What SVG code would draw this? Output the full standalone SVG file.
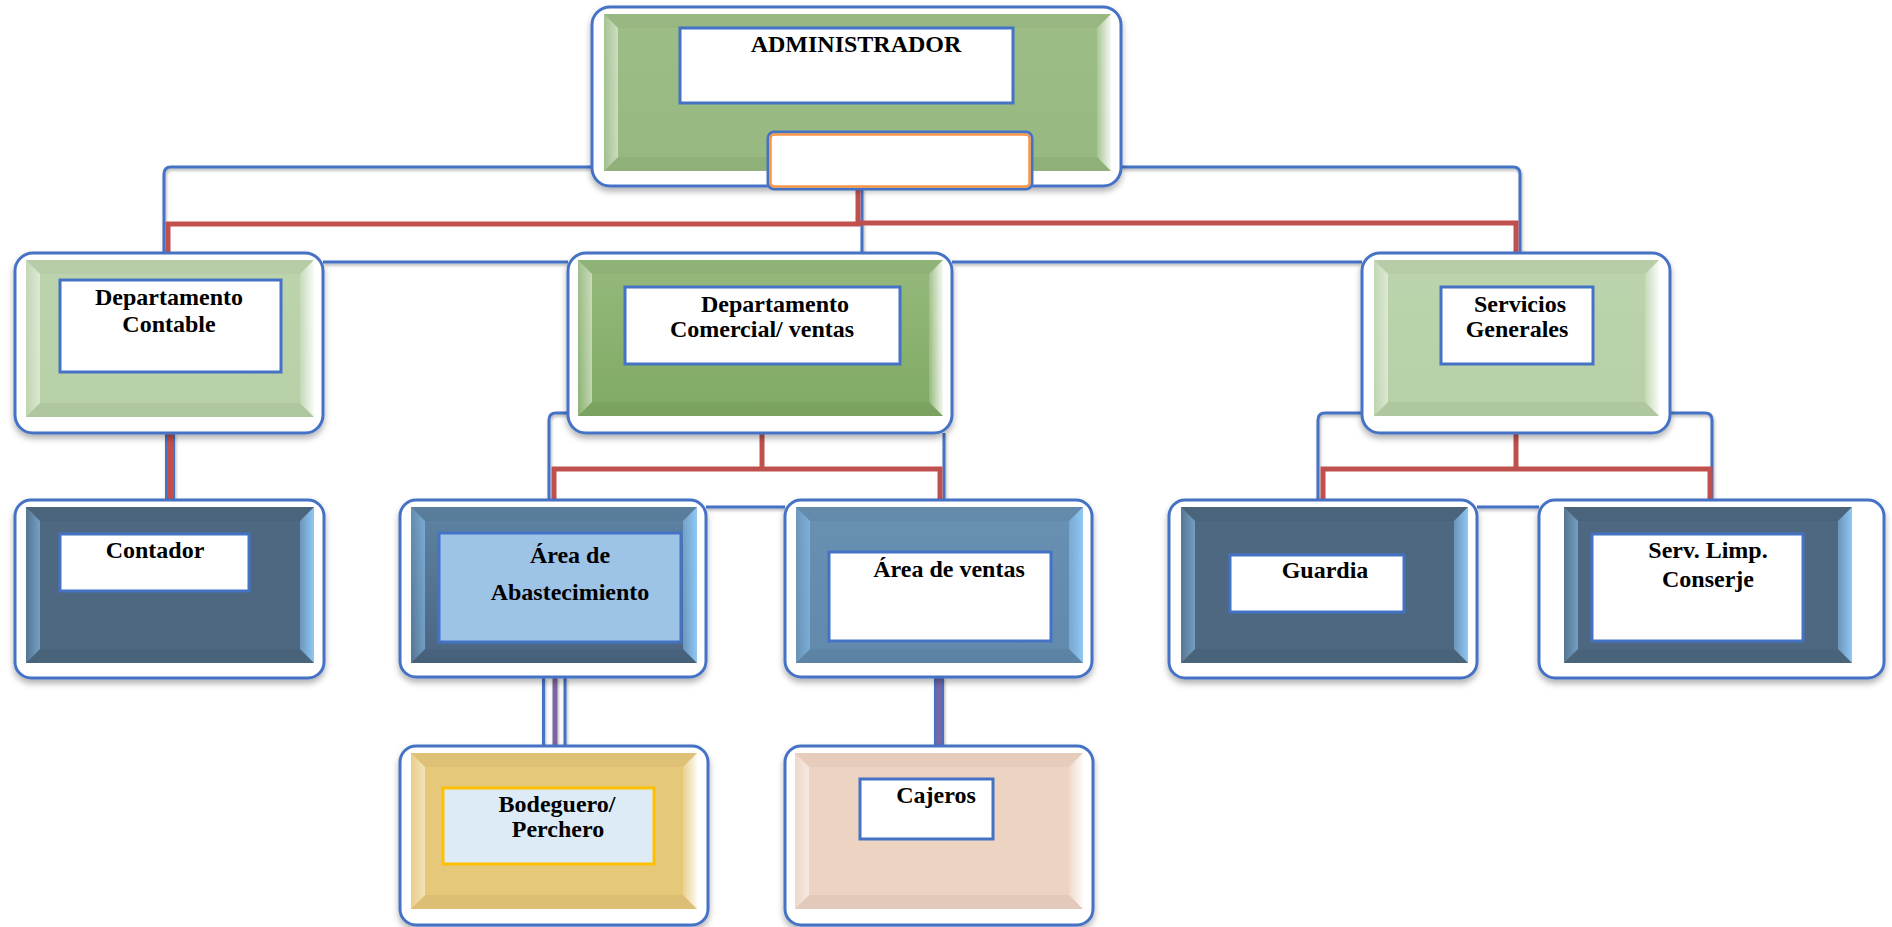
<svg xmlns="http://www.w3.org/2000/svg" width="1892" height="927" viewBox="0 0 1892 927">
<style>
  .outer { fill: #ffffff; stroke: #4472C4; stroke-width: 3; filter: url(#sh); }
  .label { fill: #ffffff; stroke: #4472C4; stroke-width: 3; }
  .t { font-family: "Liberation Serif", "Times New Roman", serif; font-weight: bold; font-size: 24px; fill: #000000; text-anchor: middle; }
  .bt { fill: #000000; opacity: 0.03; }
  .bb { fill: #000000; opacity: 0.045; }
  .blW { fill: url(#gLW); }
  .brW { fill: url(#gRW); }
  .blB { fill: url(#gLB); }
  .brB { fill: url(#gRB); }
  .blue { fill: none; stroke: #4472C4; stroke-width: 3; }
  .red { fill: none; stroke: #C0504D; stroke-width: 5; stroke-linejoin: miter; stroke-linecap: butt; }
</style>
<defs>
  <filter id="sh" x="-10%" y="-10%" width="120%" height="125%">
    <feDropShadow dx="0" dy="4" stdDeviation="3" flood-color="#000000" flood-opacity="0.3"/>
  </filter>
  <filter id="shs" x="-10%" y="-10%" width="120%" height="125%">
    <feDropShadow dx="1" dy="2" stdDeviation="1.5" flood-color="#000000" flood-opacity="0.3"/>
  </filter>
  <linearGradient id="gLW" x1="0" y1="0" x2="1" y2="0">
    <stop offset="0" stop-color="#ffffff" stop-opacity="0.1"/>
    <stop offset="1" stop-color="#ffffff" stop-opacity="0.5"/>
  </linearGradient>
  <linearGradient id="gRW" x1="0" y1="0" x2="1" y2="0">
    <stop offset="0" stop-color="#ffffff" stop-opacity="0.15"/>
    <stop offset="1" stop-color="#ffffff" stop-opacity="0.9"/>
  </linearGradient>
  <linearGradient id="gLB" x1="0" y1="0" x2="1" y2="0">
    <stop offset="0" stop-color="#8CC4F2" stop-opacity="0.15"/>
    <stop offset="1" stop-color="#8CC4F2" stop-opacity="0.6"/>
  </linearGradient>
  <linearGradient id="gRB" x1="0" y1="0" x2="1" y2="0">
    <stop offset="0" stop-color="#8CC4F2" stop-opacity="0.5"/>
    <stop offset="1" stop-color="#8FC8F5" stop-opacity="1"/>
  </linearGradient>
  <linearGradient id="gAdmin" x1="0" y1="0" x2="0" y2="1">
    <stop offset="0" stop-color="#9DBD87"/>
    <stop offset="1" stop-color="#97B880"/>
  </linearGradient>
  <linearGradient id="gCom" x1="0" y1="0" x2="0" y2="1">
    <stop offset="0" stop-color="#95B97C"/>
    <stop offset="1" stop-color="#80AA63"/>
  </linearGradient>
  <linearGradient id="gLight" x1="0" y1="0" x2="0" y2="1">
    <stop offset="0" stop-color="#BCD4AD"/>
    <stop offset="1" stop-color="#B7D0A6"/>
  </linearGradient>
  <linearGradient id="gAbast" x1="0" y1="0" x2="0" y2="1">
    <stop offset="0" stop-color="#5E83A3"/>
    <stop offset="1" stop-color="#4A6580"/>
  </linearGradient>
  <linearGradient id="gVentas" x1="0" y1="0" x2="0" y2="1">
    <stop offset="0" stop-color="#6890B2"/>
    <stop offset="1" stop-color="#6189AB"/>
  </linearGradient>
</defs>

<rect x="0" y="0" width="1892" height="927" fill="#ffffff"/>

<g id="connectors">
  <g filter="url(#shs)">
    <path class="blue" d="M 592,167 H 171 Q 164,167 164,174 V 253"/>
    <path class="blue" d="M 1121,167 H 1513 Q 1520,167 1520,174 V 253"/>
    <path class="blue" d="M 862,189 V 253"/>
    <path class="blue" d="M 323,262 H 568"/>
    <path class="blue" d="M 952,262 H 1362"/>
    <path class="blue" d="M 568,413 H 556 Q 549,413 549,420 V 500"/>
    <path class="blue" d="M 944,433 V 500"/>
    <path class="blue" d="M 706,507 H 785"/>
    <path class="blue" d="M 1362,413 H 1325 Q 1318,413 1318,420 V 500"/>
    <path class="blue" d="M 1670,413 H 1705 Q 1712,413 1712,420 V 500"/>
    <path class="blue" d="M 1477,507 H 1539"/>
  </g>
  <path class="red" d="M 858,189 V 224 H 168 V 253"/>
  <path class="red" d="M 858,223 H 1516 V 253"/>
  <path class="red" d="M 762,433 V 469"/>
  <path class="red" d="M 554,500 V 469 H 940 V 500"/>
  <path class="red" d="M 1516,433 V 469"/>
  <path class="red" d="M 1323,500 V 469 H 1710 V 500"/>
  <g filter="url(#shs)">
    <rect x="165" y="433" width="10" height="67" fill="#4472C4"/>
    <rect x="167" y="433" width="6" height="67" fill="#C0504D"/>
    <line x1="543.5" y1="677" x2="543.5" y2="746" stroke="#4472C4" stroke-width="3"/>
    <line x1="565" y1="677" x2="565" y2="746" stroke="#4472C4" stroke-width="3"/>
    <line x1="555" y1="677" x2="555" y2="746" stroke="#8064A2" stroke-width="5"/>
    <rect x="934" y="677" width="10" height="69" fill="#4472C4"/>
    <rect x="936.5" y="677" width="5" height="69" fill="#8064A2"/>
  </g>
</g>

<g id="administrador">
  <rect class="outer" x="592" y="7" width="529" height="179" rx="18"/>
  <rect x="604" y="14" width="507" height="157" fill="url(#gAdmin)"/>
  <polygon class="bt" points="604,14 1111,14 1097,28 618,28"/>
  <polygon class="bb" points="604,171 1111,171 1097,157 618,157"/>
  <polygon class="blW" points="604,14 618,28 618,157 604,171"/>
  <polygon class="brW" points="1097,28 1111,14 1111,171 1097,157"/>
  <rect class="label" x="680" y="28" width="333" height="75"/>
  <text class="t" x="856" y="52">ADMINISTRADOR</text>
  <rect x="768" y="132" width="264" height="57" rx="6" fill="#ffffff" stroke="#4472C4" stroke-width="3"/>
  <rect x="770.5" y="134.5" width="259" height="52" rx="4" fill="none" stroke="#F79646" stroke-width="2.5"/>
</g>

<g id="dep-contable">
  <rect class="outer" x="15" y="253" width="308" height="180" rx="18"/>
  <rect x="26" y="260" width="288" height="157" fill="url(#gLight)"/>
  <polygon class="bt" points="26,260 314,260 300,274 40,274"/>
  <polygon class="bb" points="26,417 314,417 300,403 40,403"/>
  <polygon class="blW" points="26,260 40,274 40,403 26,417"/>
  <polygon class="brW" points="300,274 314,260 314,417 300,403"/>
  <rect class="label" x="60" y="280" width="221" height="92"/>
  <text class="t" x="169" y="305">Departamento</text>
  <text class="t" x="169" y="332">Contable</text>
</g>

<g id="dep-comercial">
  <rect class="outer" x="568" y="253" width="384" height="180" rx="18"/>
  <rect x="578" y="260" width="365" height="156" fill="url(#gCom)"/>
  <polygon class="bt" points="578,260 943,260 929,274 592,274"/>
  <polygon class="bb" points="578,416 943,416 929,402 592,402"/>
  <polygon class="blW" points="578,260 592,274 592,402 578,416"/>
  <polygon class="brW" points="929,274 943,260 943,416 929,402"/>
  <rect class="label" x="625" y="287" width="275" height="77"/>
  <text class="t" x="775" y="312">Departamento</text>
  <text class="t" x="762" y="337">Comercial/ ventas</text>
</g>

<g id="servicios-generales">
  <rect class="outer" x="1362" y="253" width="308" height="180" rx="18"/>
  <rect x="1374" y="260" width="285" height="156" fill="url(#gLight)"/>
  <polygon class="bt" points="1374,260 1659,260 1645,274 1388,274"/>
  <polygon class="bb" points="1374,416 1659,416 1645,402 1388,402"/>
  <polygon class="blW" points="1374,260 1388,274 1388,402 1374,416"/>
  <polygon class="brW" points="1645,274 1659,260 1659,416 1645,402"/>
  <rect class="label" x="1441" y="287" width="152" height="77"/>
  <text class="t" x="1520" y="312">Servicios</text>
  <text class="t" x="1517" y="337">Generales</text>
</g>

<g id="contador">
  <rect class="outer" x="15" y="500" width="309" height="178" rx="16"/>
  <rect x="26" y="507" width="288" height="156" fill="#4D6880"/>
  <polygon class="bt" points="26,507 314,507 300,521 40,521"/>
  <polygon class="bb" points="26,663 314,663 300,649 40,649"/>
  <polygon class="blB" points="26,507 40,521 40,649 26,663"/>
  <polygon class="brB" points="300,521 314,507 314,663 300,649"/>
  <rect class="label" x="60" y="534" width="189" height="57"/>
  <text class="t" x="155" y="558">Contador</text>
</g>

<g id="area-abastecimiento">
  <rect class="outer" x="400" y="500" width="306" height="177" rx="16"/>
  <rect x="411" y="507" width="286" height="156" fill="url(#gAbast)"/>
  <polygon class="bt" points="411,507 697,507 683,521 425,521"/>
  <polygon class="bb" points="411,663 697,663 683,649 425,649"/>
  <polygon class="blB" points="411,507 425,521 425,649 411,663"/>
  <polygon class="brB" points="683,521 697,507 697,663 683,649"/>
  <rect x="439" y="533" width="242" height="109" fill="#9DC3E6" stroke="#4472C4" stroke-width="3"/>
  <text class="t" x="570" y="563">Área de</text>
  <text class="t" x="570" y="600">Abastecimiento</text>
</g>

<g id="area-ventas">
  <rect class="outer" x="785" y="500" width="307" height="177" rx="16"/>
  <rect x="796" y="507" width="287" height="156" fill="url(#gVentas)"/>
  <polygon class="bt" points="796,507 1083,507 1069,521 810,521"/>
  <polygon class="bb" points="796,663 1083,663 1069,649 810,649"/>
  <polygon class="blB" points="796,507 810,521 810,649 796,663"/>
  <polygon class="brB" points="1069,521 1083,507 1083,663 1069,649"/>
  <rect class="label" x="829" y="552" width="222" height="89"/>
  <text class="t" x="949" y="577">Área de ventas</text>
</g>

<g id="guardia">
  <rect class="outer" x="1169" y="500" width="308" height="178" rx="16"/>
  <rect x="1181" y="507" width="287" height="156" fill="#4D6880"/>
  <polygon class="bt" points="1181,507 1468,507 1454,521 1195,521"/>
  <polygon class="bb" points="1181,663 1468,663 1454,649 1195,649"/>
  <polygon class="blB" points="1181,507 1195,521 1195,649 1181,663"/>
  <polygon class="brB" points="1454,521 1468,507 1468,663 1454,649"/>
  <rect class="label" x="1230" y="555" width="174" height="57"/>
  <text class="t" x="1325" y="578">Guardia</text>
</g>

<g id="serv-limp-conserje">
  <rect class="outer" x="1539" y="500" width="345" height="178" rx="16"/>
  <rect x="1564" y="507" width="288" height="156" fill="#4D6880"/>
  <polygon class="bt" points="1564,507 1852,507 1838,521 1578,521"/>
  <polygon class="bb" points="1564,663 1852,663 1838,649 1578,649"/>
  <polygon class="blB" points="1564,507 1578,521 1578,649 1564,663"/>
  <polygon class="brB" points="1838,521 1852,507 1852,663 1838,649"/>
  <rect class="label" x="1592" y="534" width="211" height="107"/>
  <text class="t" x="1708" y="558">Serv. Limp.</text>
  <text class="t" x="1708" y="587">Conserje</text>
</g>

<g id="bodeguero-perchero">
  <rect class="outer" x="400" y="746" width="308" height="179" rx="16"/>
  <rect x="411" y="753" width="286" height="156" fill="#E6C87A"/>
  <polygon class="bt" points="411,753 697,753 683,767 425,767"/>
  <polygon class="bb" points="411,909 697,909 683,895 425,895"/>
  <polygon class="blW" points="411,753 425,767 425,895 411,909"/>
  <polygon class="brW" points="683,767 697,753 697,909 683,895"/>
  <rect x="443" y="788" width="211" height="76" fill="#DDEBF7" stroke="#FFC000" stroke-width="3"/>
  <text class="t" x="557" y="812">Bodeguero/</text>
  <text class="t" x="558" y="837">Perchero</text>
</g>

<g id="cajeros">
  <rect class="outer" x="785" y="746" width="308" height="179" rx="16"/>
  <rect x="795" y="753" width="288" height="156" fill="#EDD3C2"/>
  <polygon class="bt" points="795,753 1083,753 1069,767 809,767"/>
  <polygon class="bb" points="795,909 1083,909 1069,895 809,895"/>
  <polygon class="blW" points="795,753 809,767 809,895 795,909"/>
  <polygon class="brW" points="1069,767 1083,753 1083,909 1069,895"/>
  <rect class="label" x="860" y="779" width="133" height="60"/>
  <text class="t" x="936" y="803">Cajeros</text>
</g>
</svg>
